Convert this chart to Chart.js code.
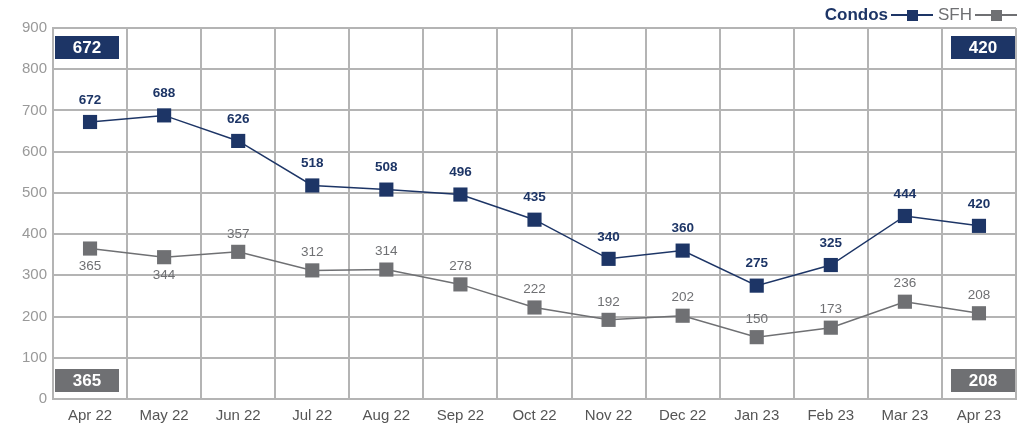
<!DOCTYPE html>
<html>
<head>
<meta charset="utf-8">
<script src="https://cdn.jsdelivr.net/npm/chart.js@4.4.1/dist/chart.umd.min.js"></script>
<style>
    html, body { margin: 0; padding: 0; background: #fff; }
    #wrap { width: 1024px; height: 431px; }
</style>
</head>
<body>
<div id="wrap"><canvas id="chart" width="1024" height="431"></canvas></div>
<script>
var months = ["Apr 22", "May 22", "Jun 22", "Jul 22", "Aug 22", "Sep 22", "Oct 22", "Nov 22", "Dec 22", "Jan 23", "Feb 23", "Mar 23", "Apr 23"];
var condos = [672, 688, 626, 518, 508, 496, 435, 340, 360, 275, 325, 444, 420];
var sfh = [365, 344, 357, 312, 314, 278, 222, 192, 202, 150, 173, 236, 208];
var yTicks = [0, 100, 200, 300, 400, 500, 600, 700, 800, 900];

var NAVY = "#1d3566",
    GRAY = "#6f7073",
    GRID = "#b4b4b4",
    FONT = "'Liberation Sans', Arial, sans-serif";

// SFH labels that sit under the point instead of over it
var sfhBelow = [0, 1];

var labelPlugin = {
    id: "labels",
    afterDatasetsDraw: function(chart) {
        var ctx = chart.ctx,
            area = chart.chartArea;

        ctx.save();
        ctx.textAlign = "center";
        ctx.textBaseline = "middle";

        // point values
        chart.data.datasets.forEach(function(ds, di) {
            var meta = chart.getDatasetMeta(di);
            meta.data.forEach(function(pt, i) {
                var dy;
                if (di === 0) {
                    ctx.font = "bold 13.5px " + FONT;
                    ctx.fillStyle = NAVY;
                    dy = -22;
                } else {
                    ctx.font = "13.5px " + FONT;
                    ctx.fillStyle = GRAY;
                    dy = sfhBelow.indexOf(i) >= 0 ? 18 : -18;
                }
                ctx.fillText(String(ds.data[i]), pt.x, pt.y + dy);
            });
        });

        // corner boxes with first / last values
        function box(x, y, color, text) {
            ctx.fillStyle = color;
            ctx.fillRect(x, y, 64, 23);
            ctx.fillStyle = "#fff";
            ctx.font = "bold 17px " + FONT;
            ctx.fillText(text, x + 32, y + 12);
        }
        box(area.left + 2, area.top + 8, NAVY, String(condos[0]));
        box(area.right - 65, area.top + 8, NAVY, String(condos[condos.length - 1]));
        box(area.left + 2, area.bottom - 30, GRAY, String(sfh[0]));
        box(area.right - 65, area.bottom - 30, GRAY, String(sfh[sfh.length - 1]));

        // legend: text then line with square
        function legendItem(xEnd, color, text, bold) {
            ctx.strokeStyle = color;
            ctx.lineWidth = 2;
            ctx.beginPath();
            ctx.moveTo(xEnd - 42, 15);
            ctx.lineTo(xEnd, 15);
            ctx.stroke();
            ctx.fillStyle = color;
            ctx.fillRect(xEnd - 26, 10, 11, 11);
            ctx.font = (bold ? "bold " : "") + "17px " + FONT;
            ctx.textAlign = "right";
            ctx.fillText(text, xEnd - 45, 15);
            ctx.textAlign = "center";
        }
        legendItem(1017, GRAY, "SFH", false);
        legendItem(933, NAVY, "Condos", true);

        ctx.restore();
    }
};

var chart = new Chart(document.getElementById("chart"), {
    type: "line",
    data: {
        labels: months,
        datasets: [{
            label: "Condos",
            data: condos,
            borderColor: NAVY,
            backgroundColor: NAVY,
            borderWidth: 1.5,
            pointStyle: "rect",
            pointRadius: 10,
            pointBorderWidth: 0,
            tension: 0
        }, {
            label: "SFH",
            data: sfh,
            borderColor: GRAY,
            backgroundColor: GRAY,
            borderWidth: 1.5,
            pointStyle: "rect",
            pointRadius: 10,
            pointBorderWidth: 0,
            tension: 0
        }]
    },
    options: {
        responsive: false,
        animation: false,
        layout: {
            autoPadding: false,
            padding: { top: 28, right: 8, left: 0, bottom: 0 }
        },
        plugins: {
            legend: { display: false },
            tooltip: { enabled: false }
        },
        scales: {
            x: {
                offset: true,
                grid: { offset: true, color: GRID, lineWidth: 2, drawTicks: false },
                border: { color: GRID, width: 2 },
                ticks: { color: "#555", font: { family: FONT, size: 15 }, padding: 8 },
                afterFit: function(scale) {
                    scale.height = 32;
                    scale.paddingLeft = 0;
                    scale.paddingRight = 0;
                }
            },
            y: {
                min: 0,
                max: 900,
                afterBuildTicks: function(scale) {
                    scale.ticks = yTicks.map(function(v) { return { value: v }; });
                },
                grid: { color: GRID, lineWidth: 2, drawTicks: false },
                border: { color: GRID, width: 2 },
                ticks: { color: "#999", font: { family: FONT, size: 15 }, padding: 6 },
                afterFit: function(scale) { scale.width = 53; }
            }
        }
    },
    plugins: [labelPlugin]
});
</script>
</body>
</html>
